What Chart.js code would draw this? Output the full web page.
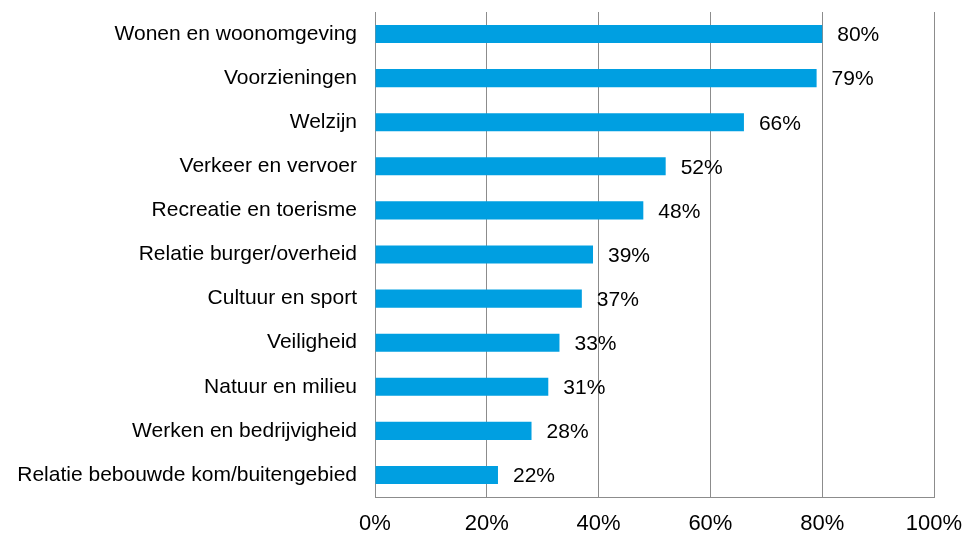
<!DOCTYPE html>
<html>
<head>
<meta charset="utf-8">
<script src="https://cdn.jsdelivr.net/npm/chart.js@4"></script>
<style>
  html, body { margin: 0; padding: 0; background: #fff; }
  #wrap { width: 966px; height: 536px; }
</style>
</head>
<body>
<div id="wrap"><canvas id="chart" width="966" height="536"></canvas></div>
<script>
// Thema's en percentages
const categories = [
  "Wonen en woonomgeving",
  "Voorzieningen",
  "Welzijn",
  "Verkeer en vervoer",
  "Recreatie en toerisme",
  "Relatie burger/overheid",
  "Cultuur en sport",
  "Veiligheid",
  "Natuur en milieu",
  "Werken en bedrijvigheid",
  "Relatie bebouwde kom/buitengebied",
];
const values = [80, 79, 66, 52, 48, 39, 37, 33, 31, 28, 22];
const xTicks = [0, 20, 40, 60, 80, 100];

const FONT = "'Liberation Sans', Arial, sans-serif";

// Waardelabels rechts van de balken
const valueLabels = {
  id: "valueLabels",
  afterDatasetsDraw(chart) {
    const ctx = chart.ctx;
    const meta = chart.getDatasetMeta(0);
    ctx.save();
    ctx.font = "21px " + FONT;
    ctx.fillStyle = "#000";
    ctx.textAlign = "left";
    ctx.textBaseline = "middle";
    meta.data.forEach((bar, i) => {
      ctx.fillText(values[i] + "%", bar.x + 15, bar.y + 1.5);
    });
    ctx.restore();
  },
};

new Chart(document.getElementById("chart"), {
  type: "bar",
  data: {
    labels: categories,
    datasets: [
      {
        data: values,
        backgroundColor: "#009FE1",
        barPercentage: 0.41,
        categoryPercentage: 1,
      },
    ],
  },
  plugins: [valueLabels],
  options: {
    indexAxis: "y",
    responsive: false,
    animation: false,
    layout: { padding: { top: 12, right: 32, left: 0, bottom: 0 } },
    plugins: { legend: { display: false }, tooltip: { enabled: false } },
    scales: {
      x: {
        min: 0,
        max: 100,
        afterBuildTicks: (scale) => {
          scale.ticks = xTicks.map((v) => ({ value: v }));
        },
        afterFit: (scale) => {
          scale.height = 39;
          scale.paddingLeft = 0;
          scale.paddingRight = 0;
        },
        grid: { color: "#8c8c8c", lineWidth: 1, drawTicks: false },
        border: { color: "#8c8c8c" },
        ticks: {
          padding: 14,
          color: "#000",
          font: { family: FONT, size: 22 },
          callback: (v) => v + "%",
        },
      },
      y: {
        afterFit: (scale) => {
          scale.width = 375;
          scale.paddingTop = 0;
          scale.paddingBottom = 0;
        },
        grid: { display: false, drawTicks: false },
        border: { color: "#8c8c8c" },
        ticks: {
          padding: 18,
          color: "#000",
          font: { family: FONT, size: 21 },
        },
      },
    },
  },
});
</script>
</body>
</html>
